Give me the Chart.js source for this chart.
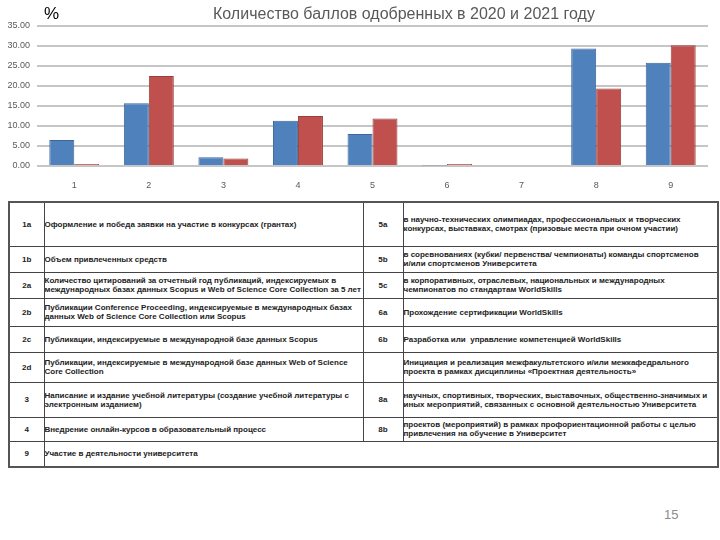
<!DOCTYPE html>
<html lang="ru">
<head>
<meta charset="utf-8">
<script src="https://cdn.jsdelivr.net/npm/chart.js@4.4.0/dist/chart.umd.min.js"></script>
<style>
 body { margin: 0; width: 720px; height: 540px; background: #fff; position: relative; overflow: hidden;
        font-family: "Liberation Sans", Arial, sans-serif; }
 #chartCanvas { position: absolute; left: 0; top: 0; }
 #pct { position: absolute; left: 44px; top: 4px; font-size: 17px; color: #000; }
 #title { position: absolute; left: 213px; top: 5px; font-size: 16px; color: #595959; white-space: nowrap; }
 #tbl { position: absolute; left: 8px; top: 201px; width: 709px; border-collapse: collapse; table-layout: fixed;
        border: 2px solid #555; }
 #tbl td { border: 1px solid #444; font-weight: bold; font-size: 8px; line-height: 9px; color: #222;
           padding: 0; vertical-align: middle; white-space: pre; overflow: hidden; }
 #tbl td.code { text-align: center; }
 #page { position: absolute; left: 664px; top: 507px; font-size: 13px; color: #8c8c8c; }
</style>
</head>
<body>
<canvas id="chartCanvas" width="720" height="190"></canvas>
<div id="pct">%</div>
<div id="title">Количество баллов одобренных в 2020 и 2021 году</div>
<table id="tbl">
 <colgroup><col style="width:35px"><col style="width:319px"><col style="width:40px"><col style="width:315px"></colgroup>
 <tbody id="tblBody"></tbody>
</table>
<div id="page">15</div>
<script>
const categories = ['1', '2', '3', '4', '5', '6', '7', '8', '9'];
const values2020 = [6.5, 15.7, 2.2, 11.3, 8.0, 0.1, 0, 29.4, 25.8];
const values2021 = [0.5, 22.5, 1.9, 12.5, 11.9, 0.5, 0, 19.4, 30.2];

// таблица показателей (переносы строк как на слайде)
const leftCodes = ['1a', '1b', '2a', '2b', '2c', '2d', '3', '4', '9'];
const leftTexts = [
 'Оформление и победа заявки на участие в конкурсах (грантах)',
 'Объем привлеченных средств',
 'Количество цитирований за отчетный год публикаций, индексируемых в\nмеждународных базах данных Scopus и Web of Science Core Collection за 5 лет',
 'Публикации Conference Proceeding, индексируемые в международных базах\nданных Web of Science Core Collection или Scopus',
 'Публикации, индексируемые в международной базе данных Scopus',
 'Публикации, индексируемые в международной базе данных Web of Science\nCore Collection',
 'Написание и издание учебной литературы (создание учебной литературы с\nэлектронным изданием)',
 'Внедрение онлайн-курсов в образовательный процесс',
 'Участие в деятельности университета'
];
const rightCodes = ['5a', '5b', '5c', '6a', '6b', '', '8a', '8b'];
const rightTexts = [
 'в научно-технических олимпиадах, профессиональных и творческих\nконкурсах, выставках, смотрах (призовые места при очном участии)',
 'в соревнованиях (кубки/ первенства/ чемпионаты) команды спортсменов\nи/или спортсменов Университета',
 'в корпоративных, отраслевых, национальных и международных\nчемпионатов по стандартам WorldSkills',
 'Прохождение сертификации WorldSkills',
 'Разработка или  управление компетенцией WorldSkills',
 'Инициация и реализация межфакультетского и/или межкафедрального\nпроекта в рамках дисциплины «Проектная деятельность»',
 'научных, спортивных, творческих, выставочных, общественно-значимых и\nиных мероприятий, связанных с основной деятельностью Университета',
 'проектов (мероприятий) в рамках профориентационной работы с целью\nпривлечения на обучение в Университет'
];
const rowHeights = [44, 26, 26, 28, 26, 30, 35, 24, 26];

const body = document.getElementById('tblBody');
leftCodes.forEach((code, i) => {
 const tr = document.createElement('tr');
 tr.style.height = rowHeights[i] + 'px';
 const cells = [[code, 'code', 1], [leftTexts[i], '', i < rightCodes.length ? 1 : 3]];
 if (i < rightCodes.length) {
  cells.push([rightCodes[i], 'code', 1], [rightTexts[i], '', 1]);
 }
 cells.forEach(([text, cls, span]) => {
  const td = document.createElement('td');
  td.textContent = text;
  if (cls) td.className = cls;
  if (span > 1) td.colSpan = span;
  tr.appendChild(td);
 });
 body.appendChild(tr);
});

const ctx = document.getElementById('chartCanvas').getContext('2d');
new Chart(ctx, {
 type: 'bar',
 data: {
  labels: categories,
  datasets: [
   {
    label: '2020',
    data: values2020,
    backgroundColor: '#4F81BD',
    borderColor: '#3D6798',
    borderWidth: 1
   },
   {
    label: '2021',
    data: values2021,
    backgroundColor: '#C0504D',
    borderColor: '#98403D',
    borderWidth: 1
   }
  ]
 },
 options: {
  responsive: false,
  animation: false,
  layout: { padding: { top: 26, right: 12, bottom: 0, left: 0 } },
  datasets: { bar: { categoryPercentage: 0.67, barPercentage: 1 } },
  plugins: {
   legend: { display: false },
   tooltip: { enabled: false }
  },
  scales: {
   x: {
    grid: { display: false },
    border: { display: false },
    ticks: { color: '#595959', font: { size: 9 }, padding: 6 },
    afterFit: s => { s.height = 24; }
   },
   y: {
    min: 0,
    max: 35,
    grid: { color: '#c6c6c6', lineWidth: 2, drawTicks: false },
    border: { display: false },
    ticks: {
     stepSize: 5,
     color: '#595959',
     font: { size: 9 },
     padding: 7,
     callback: v => v.toFixed(2)
    },
    afterFit: s => { s.width = 37; }
   }
  }
 }
});
</script>
</body>
</html>
